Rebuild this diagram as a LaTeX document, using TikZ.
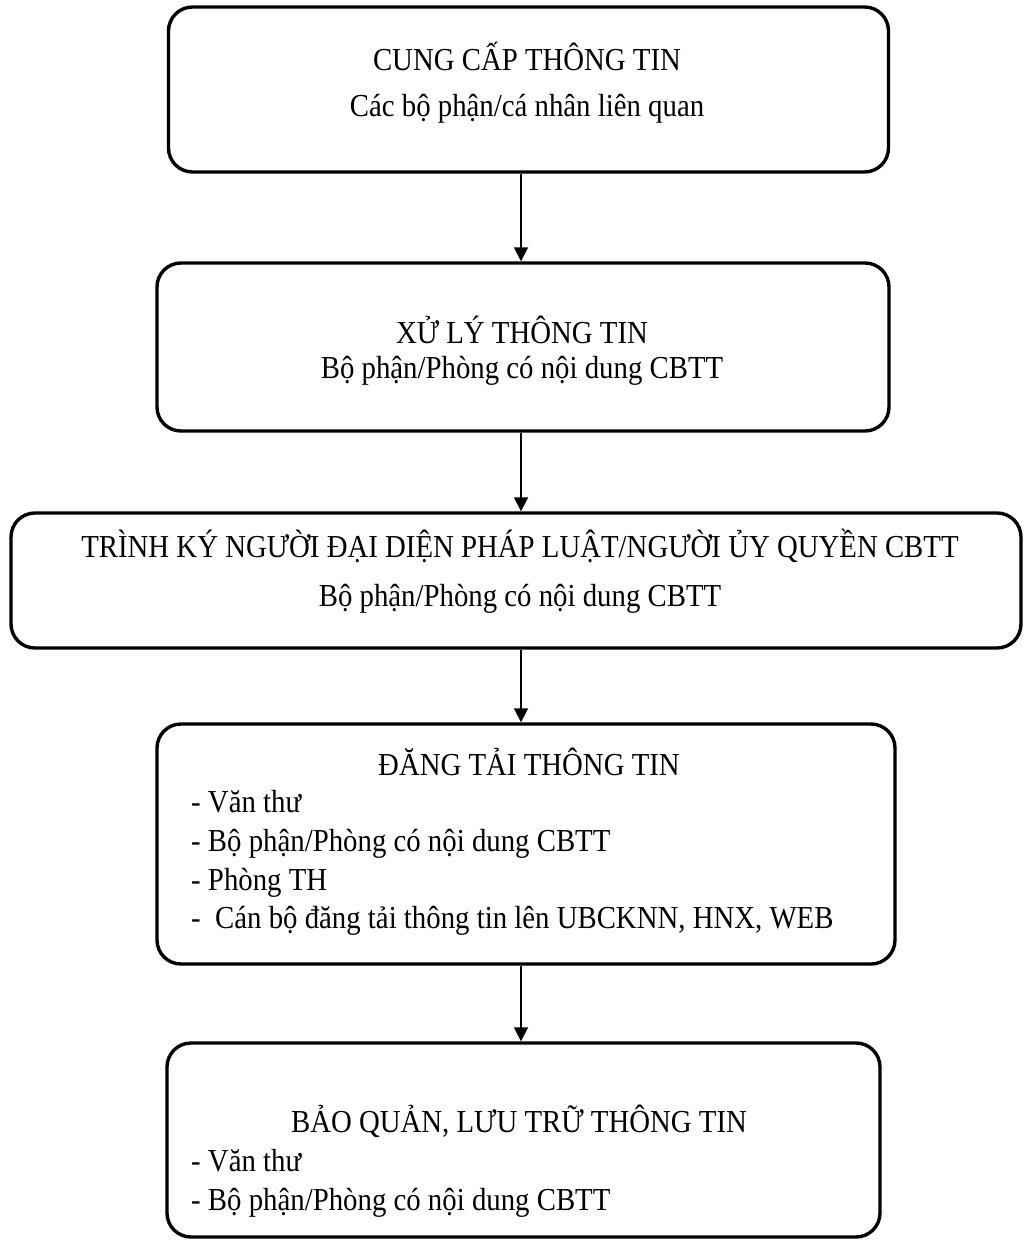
\documentclass[tikz,border=0pt]{standalone}
\usepackage{fontspec}
\setmainfont{Liberation Serif}[FakeStretch=0.9]
\usetikzlibrary{arrows.meta}
\begin{document}
\begin{tikzpicture}[x=1pt,y=-1pt,
  box/.style={draw=black, line width=3.4pt, rounded corners=24pt, rectangle, inner sep=0pt},
  txt/.style={anchor=base, inner sep=0pt, font=\fontsize{32}{38}\selectfont},
  ltxt/.style={anchor=base west, inner sep=0pt, font=\fontsize{32}{38}\selectfont},
  arr/.style={line width=1.8pt, -{Triangle[length=14pt,width=14pt]}}]
\useasboundingbox (0,0) rectangle (1024,1241);
\fill[white] (0,0) rectangle (1024,1241);
% boxes
\node[box, minimum width=720pt, minimum height=165pt] (b1) at (528.5,89.5) {};
\node[box, minimum width=732pt, minimum height=168pt] (b2) at (523,347) {};
\node[box, minimum width=1010pt, minimum height=135pt] (b3) at (516,580.5) {};
\node[box, minimum width=738pt, minimum height=240pt] (b4) at (526,844) {};
\node[box, minimum width=713pt, minimum height=194pt] (b5) at (523.5,1140) {};
% texts
\node[txt] (t1a) at (527,71) {CUNG CẤP THÔNG TIN};
\node[txt] (t1b) at (527,117) {Các bộ phận/cá nhân liên quan};
\node[txt] (t2a) at (522,343) {XỬ LÝ THÔNG TIN};
\node[txt] (t2b) at (522,378) {Bộ phận/Phòng có nội dung CBTT};
\node[txt] (t3a) at (520,557) {TRÌNH KÝ NGƯỜI ĐẠI DIỆN PHÁP LUẬT/NGƯỜI ỦY QUYỀN CBTT};
\node[txt] (t3b) at (520,606) {Bộ phận/Phòng có nội dung CBTT};
\node[txt] (t4a) at (529,775) {ĐĂNG TẢI THÔNG TIN};
\node[ltxt] (t4b) at (191,812) {- Văn thư};
\node[ltxt] (t4c) at (191,851) {- Bộ phận/Phòng có nội dung CBTT};
\node[ltxt] (t4d) at (191,890) {- Phòng TH};
\node[ltxt] (t4e) at (191,928) {-\ \ Cán bộ đăng tải thông tin lên UBCKNN, HNX, WEB};
\node[txt] (t5a) at (519,1132) {BẢO QUẢN, LƯU TRỮ THÔNG TIN};
\node[ltxt] (t5b) at (191,1171) {- Văn thư};
\node[ltxt] (t5c) at (191,1210) {- Bộ phận/Phòng có nội dung CBTT};
% arrows
\coordinate (ax) at (521,0);
\draw[arr] (b1.south -| ax) -- (b2.north -| ax);
\draw[arr] (b2.south -| ax) -- (b3.north -| ax);
\draw[arr] (b3.south -| ax) -- (b4.north -| ax);
\draw[arr] (b4.south -| ax) -- (b5.north -| ax);
\end{tikzpicture}
\end{document}
